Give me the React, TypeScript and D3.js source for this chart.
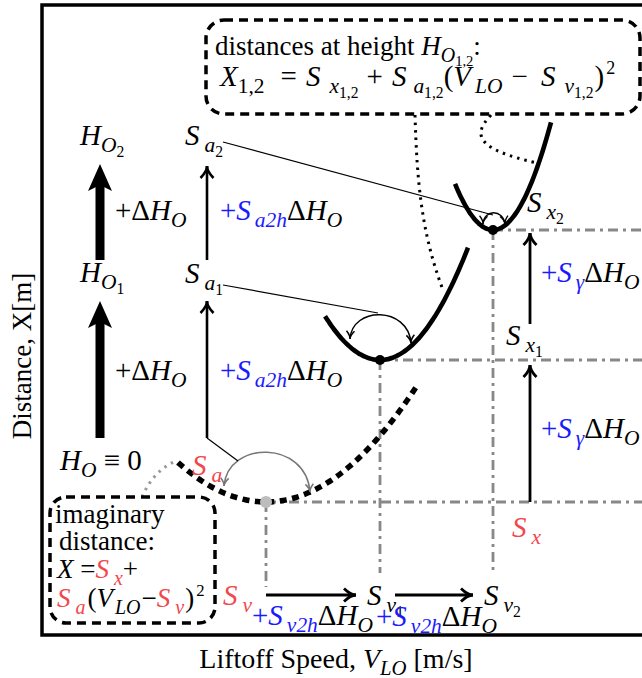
import React from 'react';
import * as d3 from 'd3';

const W = 642;
const H = 678;
const FONT = 'Liberation Serif, Times New Roman, serif';
const RED = '#f2474d';
const BLUE = '#1a1aff';
const GRAY = '#888888';

// minimum of X(V_LO) at heights H_O = 0, 1, 2 (diagram units)
const levels = ['0', '1', '2'];
const Sv = [4.48, 6.76, 9.02];
const Sx = [2.66, 5.5, 8.1];
const Sa = [0.255, 0.725, 1.6];
const vFrom = [2.72, 5.66, 8.26];
const vTo = [7.48, 8.52, 10.18];
const guideBottom = [0.96, 1.24, 1.24];

type Seg = { t: string; i?: boolean; lv?: number; c?: string; dx?: number };

const sub = (t: string, c?: string, dx?: number): Seg => ({ t, i: true, lv: 1, c, dx });

function MathText({ x, y, size, segs, anchor }: { x: number; y: number; size: number; segs: Seg[]; anchor?: string }) {
  let cur = 0;
  return (
    <text x={x} y={y} fontSize={size} fontFamily={FONT} textAnchor={anchor} style={{ whiteSpace: 'pre' }}>
      {segs.map((g, k) => {
        const lv = g.lv || 0;
        const off = lv === 1 ? size * 0.25 : lv === 2 ? size * 0.4 : lv === -1 ? -size * 0.42 : 0;
        const fs = lv === 1 ? size * 0.74 : lv === 2 ? size * 0.54 : lv === -1 ? size * 0.62 : size;
        const dy = off - cur;
        cur = off;
        return (
          <tspan key={k} dy={dy} dx={g.dx} fontSize={fs} fontStyle={g.i ? 'italic' : 'normal'} fill={g.c || '#000'}>
            {g.t}
          </tspan>
        );
      })}
    </text>
  );
}

function barbs(tx: number, ty: number, dx: number, dy: number, len: number, half: number) {
  const n = Math.hypot(dx, dy);
  const ux = dx / n;
  const uy = dy / n;
  const bx = tx - ux * len;
  const by = ty - uy * len;
  const cx = tx - ux * len * 0.45;
  const cy = ty - uy * len * 0.45;
  return `M${bx - uy * half},${by + ux * half} Q${cx},${cy} ${tx},${ty} Q${cx},${cy} ${bx + uy * half},${by - ux * half}`;
}

function Arrow({ x1, y1, x2, y2, w = 2.6, len = 12, half = 6.5 }: any) {
  return (
    <g stroke="#000" fill="none" strokeWidth={w}>
      <line x1={x1} y1={y1} x2={x2} y2={y2} />
      <path d={barbs(x2, y2, x2 - x1, y2 - y1, len, half)} />
    </g>
  );
}

function ThickArrow({ x, y1, y2 }: { x: number; y1: number; y2: number }) {
  return (
    <g fill="#000">
      <rect x={x - 4.5} y={y2 + 20} width={9} height={y1 - y2 - 20} />
      <path d={`M${x},${y2} L${x + 12},${y2 + 27} L${x},${y2 + 21} L${x - 12},${y2 + 27} Z`} />
    </g>
  );
}

function ArcArrow({ p, color, w }: { p: number[][]; color: string; w: number }) {
  const [a, b, c, d] = p;
  return (
    <g stroke={color} fill="none" strokeWidth={w}>
      <path d={`M${a[0]},${a[1]} C${b[0]},${b[1]} ${c[0]},${c[1]} ${d[0]},${d[1]}`} />
      <path d={barbs(a[0], a[1], a[0] - b[0], a[1] - b[1], 8, 4)} />
      <path d={barbs(d[0], d[1], d[0] - c[0], d[1] - c[1], 8, 4)} />
    </g>
  );
}

export default function App() {
  const x = d3.scaleLinear().domain([0, 12]).range([42, 642]);
  const y = d3.scaleLinear().domain([0, 12.6]).range([635, 5]);

  const curve = (k: number) => {
    const pts = d3.range(0, 61).map((j) => {
      const v = vFrom[k] + ((vTo[k] - vFrom[k]) * j) / 60;
      return [v, Sx[k] + Sa[k] * (v - Sv[k]) ** 2] as [number, number];
    });
    return d3.line<[number, number]>().x((d) => x(d[0])).y((d) => y(d[1])).curve(d3.curveBasis)(pts) || '';
  };

  const S = 29;
  const dH: Seg[] = [{ t: 'Δ', lv: 0 }, { t: 'H', i: true }, sub('O')];
  const blueS = (s: string): Seg[] => [{ t: '+', c: BLUE }, { t: 'S', i: true, c: BLUE }, sub(s, BLUE, 4), ...dH];
  const Sij = (a: string, b: string, c?: string): Seg[] => {
    const s: Seg[] = [{ t: 'S', i: true, c }, sub(a, c, 5)];
    if (b) s.push({ t: b, lv: 2, c });
    return s;
  };

  const formula: Seg[] = [
    { t: 'X', i: true }, { t: '1,2', lv: 1 },
    { t: '=', lv: 0, dx: 16 },
    { t: 'S', i: true, dx: 9 }, sub('x', undefined, 9), { t: '1,2', lv: 2 },
    { t: '+', lv: 0, dx: 8 },
    { t: 'S', i: true, dx: 9 }, sub('a', undefined, 7), { t: '1,2', lv: 2 },
    { t: '(', lv: 0 }, { t: 'V', i: true }, sub('LO', undefined, 4),
    { t: '−', lv: 0, dx: 9 },
    { t: 'S', i: true, dx: 13 }, sub('v', undefined, 9), { t: '1,2', lv: 2 },
    { t: ')', lv: 0, dx: 1 }, { t: '2', lv: -1, dx: 2 },
  ];

  return (
    <svg width={W} height={H} fontFamily={FONT} style={{ position: 'absolute', left: 0, top: 0 }}>
      <rect x={0} y={0} width={W} height={H} fill="#fff" />
      <rect x={42} y={5} width={620} height={630} fill="none" stroke="#000" strokeWidth={3.5} />

      {/* guide lines */}
      <g stroke={GRAY} strokeWidth={2.8} strokeDasharray="10,5,3,5" fill="none">
        {levels.map((l, k) => (
          <g key={l}>
            <line x1={x(Sv[k])} y1={y(Sx[k])} x2={W} y2={y(Sx[k])} />
            <line x1={x(Sv[k])} y1={y(Sx[k])} x2={x(Sv[k])} y2={y(guideBottom[k])} />
          </g>
        ))}
      </g>

      {/* dotted connectors */}
      <g fill="none" strokeWidth={3} strokeDasharray="2.5,5">
        <path d="M415,115 C417,180 421,232 443,290" stroke="#000" />
        <path d="M491,115 C472,135 476,149 537,163" stroke="#000" />
        <path d="M142,497 Q154,470 176,461" stroke="#999" />
      </g>

      {/* parabolas */}
      <path d={curve(0)} fill="none" stroke="#000" strokeWidth={5.5} strokeDasharray="7,5.5" />
      <path d={curve(1)} fill="none" stroke="#000" strokeWidth={4.6} />
      <path d={curve(2)} fill="none" stroke="#000" strokeWidth={4.6} />
      <circle cx={x(Sv[0])} cy={y(Sx[0])} r={6} fill="#bdbdbd" />
      <circle cx={x(Sv[1])} cy={y(Sx[1])} r={5} fill="#000" />
      <circle cx={x(Sv[2])} cy={y(Sx[2])} r={5} fill="#000" />

      {/* curvature arcs and their connector lines */}
      <ArcArrow p={[[224, 486], [228, 440], [306, 440], [310, 492]]} color="#777" w={1.5} />
      <ArcArrow p={[[350, 339], [352, 306], [408, 306], [411, 343]]} color="#000" w={1.5} />
      <ArcArrow p={[[483, 224], [484, 209], [503, 209], [505, 224]]} color="#000" w={1.3} />
      <g stroke="#000" strokeWidth={1.2}>
        <line x1={207} y1={438} x2={238} y2={461} />
        <line x1={223} y1={285} x2={378} y2={313} />
        <line x1={223} y1={142} x2={493} y2={215} />
      </g>

      {/* arrows */}
      <ThickArrow x={100} y1={260} y2={164} />
      <ThickArrow x={100} y1={438} y2={301} />
      <Arrow x1={207} y1={260} x2={207} y2={166} />
      <Arrow x1={207} y1={438} x2={207} y2={301} />
      <Arrow x1={530} y1={y(Sx[0])} x2={530} y2={365} w={2.8} />
      <Arrow x1={530} y1={324} x2={530} y2={233} w={2.8} />
      <Arrow x1={x(Sv[0])} y1={595} x2={356} y2={595} w={2.8} />
      <Arrow x1={395} y1={595} x2={473} y2={595} w={2.8} />

      {/* left column */}
      <MathText x={80} y={145} size={S} segs={[{ t: 'H', i: true }, sub('O'), { t: '2', lv: 2 }]} />
      <MathText x={80} y={282} size={S} segs={[{ t: 'H', i: true }, sub('O'), { t: '1', lv: 2 }]} />
      <MathText x={60} y={470} size={S} segs={[{ t: 'H', i: true }, sub('O'), { t: ' ≡ 0', lv: 0 }]} />
      <MathText x={115} y={220} size={S} segs={[{ t: '+' }, ...dH]} />
      <MathText x={115} y={380} size={S} segs={[{ t: '+' }, ...dH]} />

      {/* middle column */}
      <MathText x={185} y={145} size={S} segs={Sij('a', '2')} />
      <MathText x={185} y={283} size={S} segs={Sij('a', '1')} />
      <MathText x={220} y={220} size={S} segs={blueS('a2h')} />
      <MathText x={220} y={380} size={S} segs={blueS('a2h')} />
      <MathText x={192} y={475} size={S} segs={Sij('a', '', RED)} />

      {/* bottom row */}
      <MathText x={223} y={605} size={S} segs={Sij('v', '', RED)} />
      <MathText x={367} y={605} size={S} segs={Sij('v', '1')} />
      <MathText x={484} y={605} size={S} segs={Sij('v', '2')} />
      <MathText x={252} y={625} size={S} segs={blueS('v2h')} />
      <MathText x={376} y={626} size={S} segs={blueS('v2h')} />

      {/* right column */}
      <MathText x={512} y={537} size={S} segs={Sij('x', '', RED)} />
      <MathText x={506} y={345} size={S} segs={Sij('x', '1')} />
      <MathText x={527} y={212} size={S} segs={Sij('x', '2')} />
      <MathText x={541} y={282} size={S} segs={blueS('γ')} />
      <MathText x={541} y={438} size={S} segs={blueS('γ')} />

      {/* imaginary distance box */}
      <rect x={50} y={497} width={165} height={126} rx={16} fill="none" stroke="#000" strokeWidth={3.5} strokeDasharray="9,6" />
      <text x={55} y={523} fontSize={27}>imaginary</text>
      <text x={59} y={550} fontSize={27}>distance:</text>
      <MathText x={57} y={578} size={27} segs={[{ t: 'X', i: true }, { t: ' =' }, ...Sij('x', '', RED), { t: '+', lv: 0 }]} />
      <MathText
        x={57}
        y={607}
        size={27}
        segs={[...Sij('a', '', RED), { t: '(', lv: 0, dx: 2 }, { t: 'V', i: true }, sub('LO', undefined, 2), { t: '−', lv: 0, dx: 1 }, ...Sij('v', '', RED), { t: ')', lv: 0, dx: 1 }, { t: '2', lv: -1, dx: 2 }]}
      />

      {/* top box */}
      <rect x={206} y={20} width={434} height={94} rx={18} fill="none" stroke="#000" strokeWidth={3.5} strokeDasharray="9,6" />
      <MathText x={215} y={55} size={27} segs={[{ t: 'distances at height ' }, { t: 'H', i: true }, sub('O'), { t: '1,2', lv: 2 }, { t: ':', lv: 0 }]} />
      <MathText x={220} y={86} size={29} segs={formula} />

      {/* axis titles */}
      <text x={0} y={0} transform="translate(31,356) rotate(-90)" textAnchor="middle" fontSize={27}>
        Distance, X[m]
      </text>
      <MathText x={336} y={668} size={28} anchor="middle" segs={[{ t: 'Liftoff Speed, ' }, { t: 'V', i: true }, sub('LO'), { t: ' [m/s]', lv: 0 }]} />
    </svg>
  );
}
